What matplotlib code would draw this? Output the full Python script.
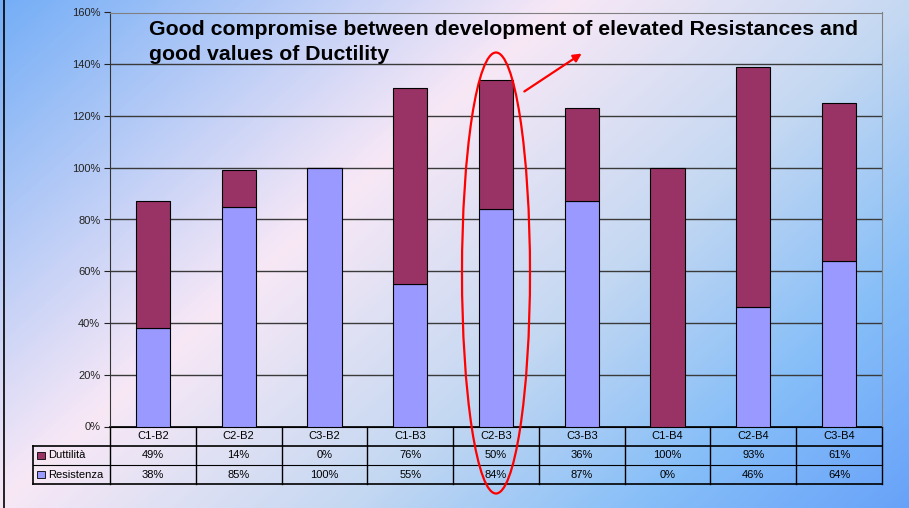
import numpy as np
import matplotlib
matplotlib.use('Agg')
import matplotlib.pyplot as plt
import matplotlib.transforms as mtransforms
from matplotlib.colors import LinearSegmentedColormap
from matplotlib.patches import Ellipse, Rectangle
from matplotlib.lines import Line2D
from matplotlib.ticker import PercentFormatter

plt.rcParams['font.family'] = ['Liberation Sans', 'DejaVu Sans']

# stacked values (%) per configuration
categories = ['C1-B2', 'C2-B2', 'C3-B2', 'C1-B3', 'C2-B3', 'C3-B3', 'C1-B4', 'C2-B4', 'C3-B4']
duttilita = [49, 14, 0, 76, 50, 36, 100, 93, 61]
resistenza = [38, 85, 100, 55, 84, 87, 0, 46, 64]
series_names = ['Duttilità', 'Resistenza']
col_dutt = '#993366'
col_res = '#9999ff'

W, H = 909, 508
fig = plt.figure(figsize=(W / 100, H / 100), dpi=100)

# diagonal blue / pink background
bg = fig.add_axes([0, 0, 1, 1], zorder=-10)
yy, xx = np.mgrid[0:H, 0:W]
t = (460 * xx + 520 * yy) / (460 * W + 520 * H)
cmap = LinearSegmentedColormap.from_list('bg', [
    (0.0, '#74aef6'), (0.38, '#f8e8f6'), (0.62, '#c4d8f2'),
    (0.82, '#86bef8'), (1.0, '#68a2f8')])
bg.imshow(t, cmap=cmap, aspect='auto', extent=(0, W, H, 0), vmin=0, vmax=1)
bg.axis('off')
fig.add_artist(Line2D([3.5 / W, 3.5 / W], [0, 1], color='black', lw=1.2))

ax = fig.add_axes([110 / W, (H - 426.5) / H, (882 - 110) / W, (426.5 - 12.5) / H])
ax.set_facecolor('none')
x = np.arange(len(categories))
bw = 0.4
ax.bar(x, resistenza, bw, color=col_res, edgecolor='black', lw=0.8, zorder=3)
ax.bar(x, duttilita, bw, bottom=resistenza, color=col_dutt, edgecolor='black', lw=0.8, zorder=3)

ax.set_xlim(-0.5, len(categories) - 0.5)
ax.set_ylim(0, 160)
ax.set_yticks(np.arange(0, 161, 20))
ax.yaxis.set_major_formatter(PercentFormatter(decimals=0))
ax.tick_params(axis='y', direction='out', length=4, width=0.8, labelsize=8, pad=3, colors='#222222')
ax.set_xticks([])
ax.grid(axis='y', color='#3a3a3a', lw=1, zorder=1)
for s in ['top', 'right']:
    ax.spines[s].set_color('#808080')
ax.spines['left'].set_color('#333333')
ax.spines['bottom'].set_color('black')

# data table under the axis
tr = mtransforms.blended_transform_factory(ax.transData, ax.transAxes)
n = len(categories)
r0, r1, r2, r3 = 0.0, -0.047, -0.093, -0.139
xl = -1.397
xr = n - 0.5
kw = dict(transform=tr, clip_on=False, color='black')
ax.add_line(Line2D([-0.5, xr], [r0, r0], lw=1.2, **kw))
ax.add_line(Line2D([xl, xr], [r1, r1], lw=1.2, **kw))
ax.add_line(Line2D([xl, xr], [r2, r2], lw=0.8, **kw))
ax.add_line(Line2D([xl, xr], [r3, r3], lw=1.2, **kw))
ax.add_line(Line2D([xl, xl], [r1, r3], lw=1.2, **kw))
for i in range(n + 1):
    ax.add_line(Line2D([i - 0.5, i - 0.5], [r0, r3], lw=1.0, **kw))

for i, c in enumerate(categories):
    ax.text(i, (r0 + r1) / 2, c, transform=tr, ha='center', va='center', fontsize=8)
    ax.text(i, (r1 + r2) / 2, f'{duttilita[i]}%', transform=tr, ha='center', va='center', fontsize=8)
    ax.text(i, (r2 + r3) / 2, f'{resistenza[i]}%', transform=tr, ha='center', va='center', fontsize=8)

for (ya, yb), name, col in zip([(r1, r2), (r2, r3)], series_names, [col_dutt, col_res]):
    ym = (ya + yb) / 2
    ax.add_patch(Rectangle((xl + 0.05, ym - 0.009), 0.09, 0.018, transform=tr, clip_on=False,
                           facecolor=col, edgecolor='black', lw=0.6))
    ax.text(xl + 0.17, ym, name, transform=tr, ha='left', va='center', fontsize=8)

# overlay in pixel coordinates for the callout
ov = fig.add_axes([0, 0, 1, 1], zorder=10)
ov.set_xlim(0, W)
ov.set_ylim(H, 0)
ov.axis('off')
ov.add_patch(Ellipse((496, 273), 68, 441, fill=False, edgecolor='red', lw=1.6))
ov.annotate('', xy=(584, 52), xytext=(522, 93),
            arrowprops=dict(arrowstyle='-|>', color='red', lw=1.6, mutation_scale=12))
ov.text(149, 20, 'Good compromise between development of elevated Resistances and\ngood values of Ductility',
        ha='left', va='top', fontsize=15.3, fontweight='bold', linespacing=1.42)

fig.savefig('out.png', dpi=100)
